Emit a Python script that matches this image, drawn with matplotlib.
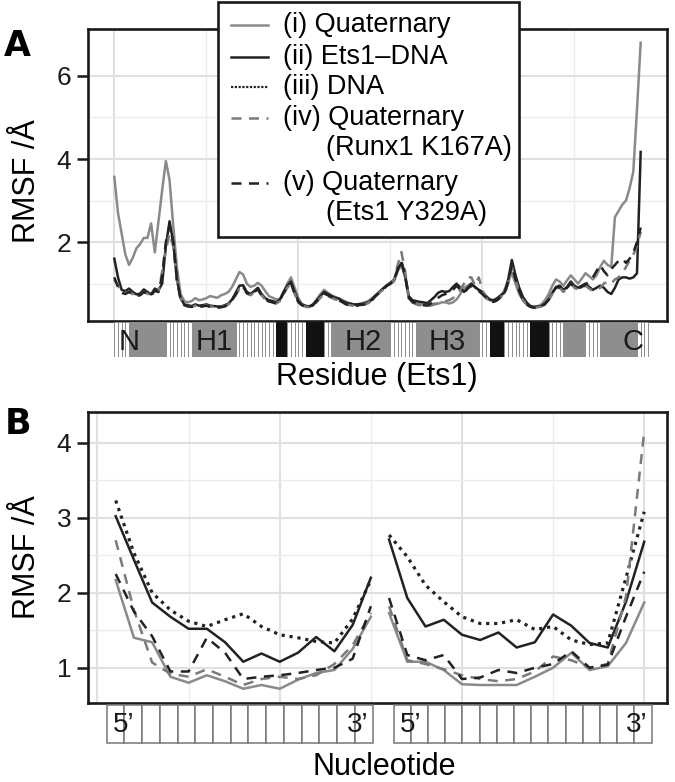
import numpy as np
import matplotlib
matplotlib.use('Agg')
import matplotlib.pyplot as plt
from matplotlib.patches import Rectangle

plt.rcParams['font.family'] = ['Liberation Sans', 'DejaVu Sans']

W, H = 675, 782

# ---- panel A: per-residue RMSF of Ets1 ----
residue = np.arange(300, 444)

quat = [3.57, 2.70, 2.20, 1.70, 1.45, 1.62, 1.85, 1.95, 2.10, 2.10,
        2.45, 1.75, 2.50, 3.25, 3.95, 3.50, 2.40, 1.40, 0.75, 0.58,
        0.55, 0.58, 0.65, 0.60, 0.62, 0.65, 0.70, 0.68, 0.66, 0.72,
        0.75, 0.80, 0.92, 1.10, 1.28, 1.22, 1.00, 0.92, 0.95, 1.02,
        0.95, 0.82, 0.70, 0.66, 0.62, 0.62, 0.80, 1.00, 1.15, 0.90,
        0.65, 0.50, 0.47, 0.45, 0.50, 0.62, 0.75, 0.85, 0.78, 0.72,
        0.68, 0.64, 0.60, 0.56, 0.52, 0.50, 0.50, 0.52, 0.55, 0.58,
        0.65, 0.72, 0.80, 0.88, 0.95, 1.00, 1.05, 1.30, 1.45, 1.15,
        0.65, 0.55, 0.52, 0.50, 0.50, 0.48, 0.50, 0.52, 0.52, 0.55,
        0.55, 0.52, 0.55, 0.62, 0.75, 0.90, 0.95, 1.00, 0.90, 0.85,
        0.75, 0.65, 0.60, 0.58, 0.62, 0.70, 0.85, 1.05, 1.25, 1.00,
        0.75, 0.60, 0.50, 0.46, 0.44, 0.45, 0.50, 0.60, 0.75, 0.95,
        1.10, 1.05, 0.95, 1.08, 1.20, 1.10, 1.00, 1.12, 1.25, 1.18,
        1.10, 1.20, 1.40, 1.55, 1.45, 1.40, 2.60, 2.75, 2.90, 3.00,
        3.30, 3.70, 5.20, 6.80]

ets1_dna = [1.60, 1.15, 0.85, 0.82, 0.88, 0.80, 0.74, 0.76, 0.86, 0.80,
            0.74, 0.88, 0.84, 1.00, 1.90, 2.50, 2.00, 1.10, 0.65, 0.50,
            0.48, 0.46, 0.50, 0.47, 0.48, 0.50, 0.47, 0.46, 0.45, 0.45,
            0.48, 0.52, 0.62, 0.78, 0.95, 0.96, 0.80, 0.75, 0.82, 0.90,
            0.75, 0.65, 0.60, 0.58, 0.55, 0.62, 0.80, 0.95, 1.05, 0.80,
            0.58, 0.50, 0.46, 0.45, 0.50, 0.60, 0.70, 0.80, 0.75, 0.70,
            0.66, 0.64, 0.58, 0.54, 0.52, 0.50, 0.50, 0.51, 0.52, 0.55,
            0.62, 0.72, 0.80, 0.88, 0.96, 1.02, 1.10, 1.35, 1.50, 1.20,
            0.70, 0.60, 0.58, 0.56, 0.55, 0.53, 0.60, 0.68, 0.78, 0.82,
            0.80, 0.82, 0.92, 1.00, 0.90, 0.80, 0.90, 1.00, 0.92, 0.85,
            0.80, 0.70, 0.62, 0.60, 0.65, 0.72, 0.78, 1.10, 1.57, 1.20,
            0.90, 0.68, 0.55, 0.46, 0.44, 0.45, 0.46, 0.52, 0.62, 0.78,
            0.92, 0.95, 0.85, 0.92, 1.05, 0.95, 0.90, 0.95, 1.00, 0.92,
            0.85, 0.90, 0.95, 0.90, 0.80, 0.75, 0.90, 1.10, 1.15, 1.15,
            1.12, 1.15, 1.25, 4.17]

k167a = [1.10, 0.95, 0.80, 0.78, 0.80, 0.75, 0.70, 0.72, 0.80, 0.76,
         0.70, 0.82, 0.80, 1.30, 1.80, 2.20, 1.90, 1.10, 0.65, 0.50,
         0.46, 0.44, 0.47, 0.45, 0.46, 0.48, 0.45, 0.44, 0.43, 0.44,
         0.46, 0.50, 0.58, 0.72, 0.88, 0.90, 0.76, 0.72, 0.78, 0.85,
         0.72, 0.62, 0.57, 0.55, 0.52, 0.58, 0.75, 0.90, 1.00, 0.75,
         0.55, 0.48, 0.44, 0.43, 0.47, 0.56, 0.66, 0.75, 0.70, 0.66,
         0.62, 0.60, 0.55, 0.50, 0.48, 0.47, 0.47, 0.48, 0.50, 0.53,
         0.60, 0.70, 0.78, 0.85, 0.92, 1.00, 1.10, 1.45, 1.76, 1.30,
         0.65, 0.55, 0.50, 0.48, 0.47, 0.45, 0.47, 0.50, 0.52, 0.55,
         0.58, 0.60, 0.65, 0.75, 0.85, 1.00, 1.15, 1.15, 0.95, 1.15,
         0.85, 0.65, 0.58, 0.55, 0.60, 0.68, 0.75, 1.00, 1.40, 1.10,
         0.80, 0.60, 0.50, 0.44, 0.42, 0.43, 0.45, 0.50, 0.60, 0.75,
         0.88, 0.90, 0.80, 0.88, 1.00, 0.90, 0.85, 0.90, 0.95, 0.88,
         0.82, 0.85, 0.90, 1.00, 1.05, 1.00, 1.10, 1.15, 1.25, 1.40,
         1.55, 1.70, 1.90, 2.25]

y329a = [1.15, 0.92, 0.78, 0.75, 0.80, 0.74, 0.70, 0.72, 0.80, 0.75,
         0.70, 0.84, 0.80, 1.20, 2.00, 2.40, 2.00, 1.10, 0.62, 0.48,
         0.45, 0.44, 0.46, 0.44, 0.45, 0.47, 0.44, 0.43, 0.42, 0.43,
         0.45, 0.50, 0.60, 0.75, 0.90, 0.92, 0.78, 0.72, 0.80, 0.86,
         0.72, 0.62, 0.57, 0.55, 0.52, 0.60, 0.78, 0.92, 1.00, 0.76,
         0.55, 0.48, 0.44, 0.43, 0.48, 0.58, 0.68, 0.76, 0.72, 0.68,
         0.64, 0.60, 0.55, 0.50, 0.48, 0.47, 0.47, 0.49, 0.50, 0.54,
         0.60, 0.70, 0.78, 0.86, 0.94, 1.00, 1.08, 1.35, 1.55, 1.20,
         0.66, 0.56, 0.52, 0.50, 0.48, 0.47, 0.52, 0.58, 0.66, 0.72,
         0.75, 0.78, 0.85, 0.95, 0.85, 0.78, 0.88, 0.95, 0.88, 0.82,
         0.75, 0.66, 0.58, 0.56, 0.60, 0.68, 0.75, 1.05, 1.45, 1.10,
         0.82, 0.62, 0.50, 0.44, 0.42, 0.43, 0.45, 0.50, 0.62, 0.78,
         0.90, 0.92, 0.82, 0.90, 1.00, 0.92, 0.88, 0.92, 0.98, 1.05,
         1.15, 1.30, 1.45, 1.30, 1.20, 1.35, 1.45, 1.55, 1.60, 1.50,
         1.60, 1.75, 2.00, 2.35]

# secondary structure (offsets from first residue): c=coil, h=helix, e=strand
ss_first = [0, 4, 14, 21, 33, 44, 47, 52, 57, 59, 75, 82, 99, 102, 106, 113, 118, 122, 128, 132, 142]
ss_last = [3, 13, 20, 32, 43, 46, 51, 56, 58, 74, 81, 98, 101, 105, 112, 117, 121, 127, 131, 141, 144]
ss_type = ['c', 'h', 'c', 'h', 'c', 'e', 'c', 'e', 'c', 'h', 'c', 'h', 'c', 'e', 'c', 'e', 'c', 'h', 'c', 'h', 'c']
ss_names = ['N', 'H1', 'H2', 'H3', 'C']
ss_name_pos = [4.0, 27.0, 67.5, 90.5, 141.0]

# ---- panel B: per-nucleotide RMSF of the DNA (two strands) ----
nuc_left = np.arange(1, 16)
nuc_right = np.arange(16, 31)

quat_B_l = [2.17, 1.40, 1.34, 0.88, 0.80, 0.90, 0.82, 0.72, 0.77, 0.72, 0.84, 0.93, 0.97, 1.25, 1.68]
quat_B_r = [1.73, 1.08, 1.08, 0.97, 0.78, 0.77, 0.77, 0.77, 0.88, 1.00, 1.20, 0.97, 1.02, 1.33, 1.87]
ets1_B_l = [3.02, 2.44, 1.87, 1.68, 1.52, 1.52, 1.34, 1.08, 1.19, 1.08, 1.20, 1.41, 1.22, 1.57, 2.20]
ets1_B_r = [2.71, 1.93, 1.55, 1.64, 1.44, 1.37, 1.47, 1.27, 1.34, 1.71, 1.56, 1.33, 1.27, 1.88, 2.68]
dna_B_l = [3.23, 2.53, 2.00, 1.77, 1.62, 1.55, 1.64, 1.72, 1.55, 1.44, 1.40, 1.35, 1.33, 1.65, 2.17]
dna_B_r = [2.77, 2.48, 2.10, 1.88, 1.68, 1.59, 1.59, 1.64, 1.51, 1.55, 1.37, 1.31, 1.33, 2.20, 3.08]
k167a_B_l = [2.70, 1.77, 1.07, 0.92, 0.88, 0.98, 0.88, 0.77, 0.85, 0.88, 0.85, 0.90, 1.05, 1.30, 1.73]
k167a_B_r = [1.82, 1.10, 1.05, 0.98, 0.90, 0.85, 0.82, 0.85, 0.95, 1.15, 1.10, 1.00, 1.05, 1.95, 4.15]
y329a_B_l = [2.25, 1.75, 1.42, 0.95, 0.95, 1.40, 1.20, 0.85, 0.88, 0.90, 0.93, 0.97, 1.00, 1.12, 1.82]
y329a_B_r = [1.93, 1.17, 1.10, 1.17, 0.85, 0.87, 0.97, 0.93, 1.00, 1.05, 1.22, 1.00, 1.04, 1.68, 2.28]

strand_start = [0.5, 16.25]
strand_end = [15.1, 30.4]

GREY = '#8a8a8a'
DGREY = '#7a7a7a'
BLACK = '#222222'
styles = {
    'quat': dict(color=GREY, ls='-', lw=1.8),
    'ets1': dict(color=BLACK, ls='-', lw=1.8),
    'dna': dict(color=BLACK, ls=(0, (1, 1.5)), lw=2.3),
    'k167a': dict(color=DGREY, ls=(0, (4, 3)), lw=1.8),
    'y329a': dict(color=BLACK, ls=(0, (4, 3)), lw=1.8),
}


def fr(x0, y0, x1, y1):
    # pixel box (top-left origin) -> figure fraction rect
    return [x0 / W, 1 - y1 / H, (x1 - x0) / W, (y1 - y0) / H]


def style_axes(ax):
    for s in ax.spines.values():
        s.set_linewidth(1.9)
        s.set_color('#1a1a1a')
    ax.grid(which='major', color='#e0e0e0', lw=1.5)
    ax.grid(which='minor', color='#ececec', lw=1.0)
    ax.set_axisbelow(True)
    ax.tick_params(axis='y', which='major', length=8, width=1.8, labelsize=19, pad=4, colors='#1a1a1a')
    ax.tick_params(axis='y', which='minor', length=0)
    ax.tick_params(axis='x', which='both', length=0, labelbottom=False)


fig = plt.figure(figsize=(W / 100, H / 100), dpi=100)

# ---- panel A ----
axA = fig.add_axes(fr(88, 29, 667, 321))
axA.plot(residue, quat, **styles['quat'])
axA.plot(residue, ets1_dna, **styles['ets1'])
axA.plot(residue, k167a, **styles['k167a'])
axA.plot(residue, y329a, **styles['y329a'])
axA.set_xlim(residue[0] - 7.15, residue[-1] + 7.15)
axA.set_ylim(0.1, 7.13)
axA.set_yticks([2, 4, 6])
axA.set_yticks([1, 3, 5], minor=True)
axA.set_xticks([300, 350, 400])
axA.set_xticks([325, 375, 425], minor=True)
style_axes(axA)

barA = fig.add_axes(fr(88, 322, 667, 357))
barA.set_xlim(axA.get_xlim())
barA.set_ylim(0, 1)
barA.axis('off')
fills = {'c': 'white', 'h': '#8e8e8e', 'e': '#111111'}
edges = {'c': '#8e8e8e', 'h': '#8e8e8e', 'e': '#111111'}
for a, b, t in zip(ss_first, ss_last, ss_type):
    for k in range(a, b + 1):
        barA.add_patch(Rectangle((residue[0] + k, 0), 1, 1, facecolor=fills[t],
                                 edgecolor=edges[t], lw=0.7))
for name, p in zip(ss_names, ss_name_pos):
    barA.text(residue[0] + p, 0.42, name, ha='center', va='center', fontsize=21, color='#1a1a1a')

# ---- panel B ----
axB = fig.add_axes(fr(88, 412, 667, 703))
for key, l, r in [('quat', quat_B_l, quat_B_r), ('ets1', ets1_B_l, ets1_B_r),
                  ('dna', dna_B_l, dna_B_r), ('k167a', k167a_B_l, k167a_B_r),
                  ('y329a', y329a_B_l, y329a_B_r)]:
    axB.plot(nuc_left, l, **styles[key])
    axB.plot(nuc_right, r, **styles[key])
axB.set_xlim(-0.52, 31.25)
axB.set_ylim(0.53, 4.41)
axB.set_yticks([1, 2, 3, 4])
axB.set_yticks([1.5, 2.5, 3.5], minor=True)
axB.set_xticks([0, 10, 20, 30])
axB.set_xticks([5, 15, 25], minor=True)
style_axes(axB)

barB = fig.add_axes(fr(88, 704, 667, 744))
barB.set_xlim(axB.get_xlim())
barB.set_ylim(0, 1)
barB.axis('off')
for s0, s1 in zip(strand_start, strand_end):
    w = (s1 - s0) / 15
    for k in range(15):
        barB.add_patch(Rectangle((s0 + k * w, 0.02), w, 0.96, facecolor='white',
                                 edgecolor='#777777', lw=1.1))
    barB.text(s0 + 0.95, 0.48, '5\u2019', ha='center', va='center', fontsize=20, color='#1a1a1a')
    barB.text(s1 - 0.8, 0.48, '3\u2019', ha='center', va='center', fontsize=20, color='#1a1a1a')

# ---- labels ----
fig.text(27 / W, 1 - 181 / H, 'RMSF /\u00c5', rotation=90, ha='center', va='center', fontsize=22)
fig.text(27 / W, 1 - 557 / H, 'RMSF /\u00c5', rotation=90, ha='center', va='center', fontsize=22)
fig.text(377 / W, 1 - 377 / H, 'Residue (Ets1)', ha='center', va='center', fontsize=22)
fig.text(384 / W, 1 - 767 / H, 'Nucleotide', ha='center', va='center', fontsize=22)
fig.text(17 / W, 1 - 46 / H, 'A', ha='center', va='center', fontsize=25,
         fontweight='bold', family='DejaVu Sans')
fig.text(18 / W, 1 - 424 / H, 'B', ha='center', va='center', fontsize=25,
         fontweight='bold', family='DejaVu Sans')

# ---- legend drawn in pixel space ----
ov = fig.add_axes([0, 0, 1, 1], zorder=10)
ov.set_xlim(0, W)
ov.set_ylim(H, 0)
ov.axis('off')
ov.patch.set_alpha(0)
ov.add_patch(Rectangle((218, 2), 301, 235, facecolor='white', edgecolor='#1a1a1a', lw=1.9))
leg_rows = [('quat', '(i) Quaternary', 25, None, 0),
            ('ets1', '(ii) Ets1\u2013DNA', 57, None, 0),
            ('dna', '(iii) DNA', 87, None, 0),
            ('k167a', '(iv) Quaternary', 118, '(Runx1 K167A)', 148),
            ('y329a', '(v) Quaternary', 183, '(Ets1 Y329A)', 213)]
for key, lab, y, lab2, y2 in leg_rows:
    st = dict(styles[key])
    if key == 'dna':
        st['ls'] = (0, (1, 0.7))
        st['lw'] = 1.6
    ov.plot([231, 268], [y, y], **st)
    ov.text(283, y, lab, ha='left', va='center', fontsize=19.5)
    if lab2:
        ov.text(326, y2, lab2, ha='left', va='center', fontsize=19.5)

fig.savefig('out.png', dpi=100)
